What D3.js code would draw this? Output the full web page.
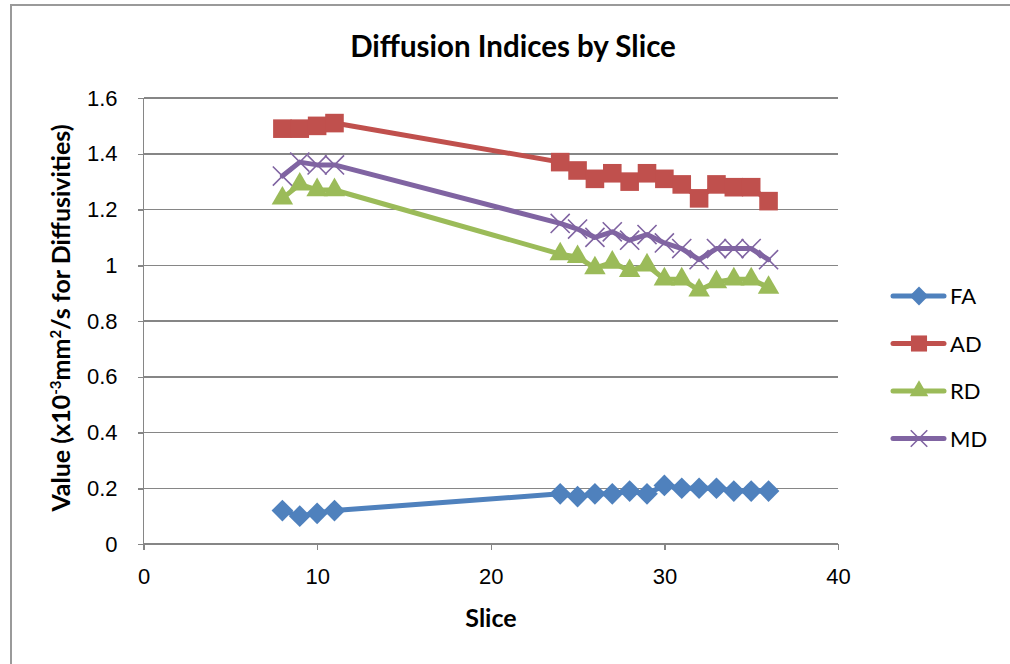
<!DOCTYPE html>
<meta charset="utf-8">
<style>
  body { margin: 0; background: #fff; font-family: Lato, "Open Sans", sans-serif; }
  .axis path, .axis line { fill: none; stroke: #868686; stroke-width: 1.5; shape-rendering: crispEdges; }
  .axis text { fill: #000; font-size: 22px; }
  .grid line { stroke: #868686; stroke-width: 1.5; shape-rendering: crispEdges; }
  .title { font-size: 29.5px; font-weight: bold; }
  .axis_title { font-size: 25px; font-weight: bold; }
  .legend text { font-size: 22px; }
</style>
<body>
<script src="https://d3js.org/d3.v7.min.js"></script>
<script>
var slices = [8, 9, 10, 11, 24, 25, 26, 27, 28, 29, 30, 31, 32, 33, 34, 35, 36];
var seriesNames = ["FA", "AD", "RD", "MD"];
var faValues = [0.12, 0.10, 0.11, 0.12, 0.18, 0.17, 0.18, 0.18, 0.19, 0.18, 0.21, 0.20, 0.20, 0.20, 0.19, 0.19, 0.19];
var adValues = [1.49, 1.49, 1.50, 1.51, 1.37, 1.34, 1.31, 1.33, 1.30, 1.33, 1.31, 1.29, 1.24, 1.29, 1.28, 1.28, 1.23];
var rdValues = [1.24, 1.29, 1.27, 1.27, 1.04, 1.03, 0.99, 1.01, 0.98, 1.00, 0.95, 0.95, 0.91, 0.94, 0.95, 0.95, 0.92];
var mdValues = [1.32, 1.37, 1.36, 1.36, 1.15, 1.13, 1.10, 1.12, 1.09, 1.11, 1.08, 1.06, 1.02, 1.06, 1.06, 1.06, 1.02];
var xTicks = [0, 10, 20, 30, 40];
var yTicks = [0, 0.2, 0.4, 0.6, 0.8, 1, 1.2, 1.4, 1.6];

var colors = { FA: "#4F81BD", AD: "#C0504D", RD: "#9BBB59", MD: "#8064A2" };
var symbols = { FA: d3.symbolDiamond2, AD: d3.symbolSquare2, RD: d3.symbolTriangle2, MD: d3.symbolX };
var symbolSize = { FA: 300, AD: 440, RD: 330, MD: 240 };
var values = { FA: faValues, AD: adValues, RD: rdValues, MD: mdValues };

var margin = { top: 98, left: 143.5 },
    width = 838 - 143.5,
    height = 544 - 98;

var svg = d3.select("body").append("svg")
    .attr("width", 1010)
    .attr("height", 664);

// outer chart border
svg.append("rect")
    .attr("x", 11).attr("y", 5)
    .attr("width", 1100).attr("height", 700)
    .attr("fill", "none")
    .attr("stroke", "#9a9a9a")
    .attr("stroke-width", 2);

svg.append("text")
    .attr("class", "title")
    .attr("x", 513).attr("y", 57)
    .attr("text-anchor", "middle")
    .text("Diffusion Indices by Slice");

var g = svg.append("g")
    .attr("transform", "translate(" + margin.left + "," + margin.top + ")");

var x = d3.scaleLinear().domain([0, 40]).range([0, width]);
var y = d3.scaleLinear().domain([0, 1.6]).range([height, 0]);

g.append("g")
    .attr("class", "grid")
    .selectAll("line")
    .data(yTicks.slice(1))
    .enter().append("line")
    .attr("x1", 0).attr("x2", width)
    .attr("y1", function(d) { return y(d); })
    .attr("y2", function(d) { return y(d); });

var yAxis = g.append("g")
    .attr("class", "axis")
    .call(d3.axisLeft(y).tickValues(yTicks).tickSize(6).tickPadding(20).tickFormat(d3.format("")));
yAxis.select(".domain").attr("d", "M0,0V" + height);

var xAxis = g.append("g")
    .attr("class", "axis")
    .attr("transform", "translate(0," + height + ")")
    .call(d3.axisBottom(x).tickValues(xTicks).tickSize(6).tickPadding(18));
xAxis.select(".domain").attr("d", "M0,0H" + width);

svg.append("text")
    .attr("class", "axis_title")
    .attr("x", 491).attr("y", 627)
    .attr("text-anchor", "middle")
    .text("Slice");

var yTitle = svg.append("text")
    .attr("class", "axis_title")
    .attr("text-anchor", "middle")
    .attr("transform", "translate(70,318) rotate(-90)");
yTitle.append("tspan").text("Value (x10");
yTitle.append("tspan").attr("font-size", "15px").attr("dy", -9).text("-3");
yTitle.append("tspan").attr("dy", 9).text("mm");
yTitle.append("tspan").attr("font-size", "15px").attr("dy", -9).text("2");
yTitle.append("tspan").attr("dy", 9).text("/s for Diffusivities)");

var line = d3.line()
    .x(function(d) { return x(d[0]); })
    .y(function(d) { return y(d[1]); });

function drawMarker(sel, name, scale) {
  var sym = d3.symbol().type(symbols[name]).size(symbolSize[name] * (scale || 1));
  sel.attr("d", sym)
    .attr("fill", name === "MD" ? "none" : colors[name])
    .attr("stroke", colors[name])
    .attr("stroke-width", name === "MD" ? 1.6 : 0);
}

seriesNames.forEach(function(name) {
  var pts = slices.map(function(s, i) { return [s, values[name][i]]; });
  var sg = g.append("g");
  sg.append("path")
    .attr("d", line(pts))
    .attr("fill", "none")
    .attr("stroke", colors[name])
    .attr("stroke-width", 5)
    .attr("stroke-linejoin", "round")
    .attr("stroke-linecap", "round");
  sg.selectAll("path.marker")
    .data(pts)
    .enter().append("path")
    .attr("class", "marker")
    .attr("transform", function(d) { return "translate(" + x(d[0]) + "," + y(d[1]) + ")"; })
    .call(drawMarker, name);
});

var legend = svg.append("g").attr("class", "legend");
seriesNames.forEach(function(name, i) {
  var ly = 296 + i * 47.5;
  var lg = legend.append("g").attr("transform", "translate(0," + ly + ")");
  lg.append("line")
    .attr("x1", 893).attr("x2", 944)
    .attr("stroke", colors[name])
    .attr("stroke-width", 5)
    .attr("stroke-linecap", "round");
  lg.append("path")
    .attr("transform", "translate(919,0)")
    .call(drawMarker, name, 0.75);
  lg.append("text")
    .attr("x", 950).attr("y", 8)
    .text(name);
});
</script>
</body>
